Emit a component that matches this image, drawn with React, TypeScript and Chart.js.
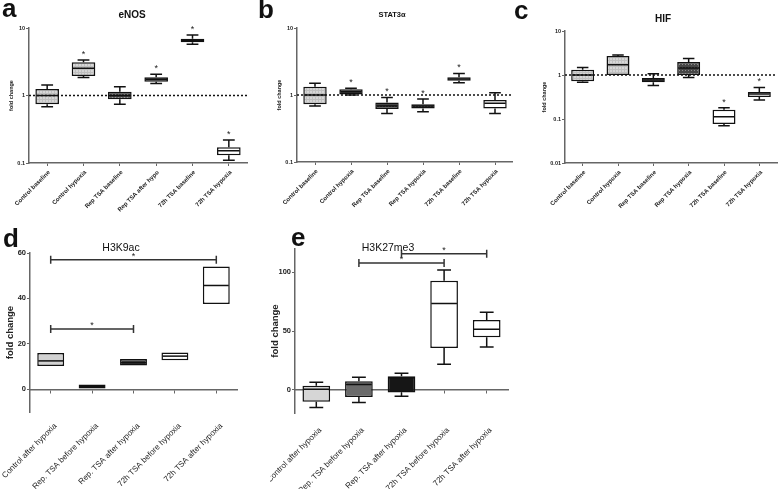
import React, { useEffect, useRef } from "react";
import { Chart, registerables } from "chart.js";

Chart.register(...registerables);
Chart.defaults.font.family = "'Liberation Sans', Arial, Helvetica, sans-serif";

// ---------------- data ----------------
// each box: [min, q1, median, q3, max]
const enosLabels = ["Control baseline", "Control hypoxia", "Rep TSA baseline", "Rep TSA after hypo", "72h TSA baseline", "72h TSA hypoxia"];
const enosBoxes = [
  [0.68, 0.74, 1.0, 1.25, 1.43],
  [1.84, 1.95, 2.53, 3.1, 3.36],
  [0.74, 0.88, 1.0, 1.14, 1.35],
  [1.51, 1.6, 1.74, 1.86, 2.06],
  [5.73, 6.14, 6.5, 6.95, 7.87],
  [0.11, 0.13, 0.152, 0.171, 0.219],
];
const enosSignificant = [false, true, false, true, true, true];
const enosTicks = [0.1, 1, 10];

const statLabels = ["Control baseline", "Control hypoxia", "Rep TSA baseline", "Rep TSA hypoxia", "72h TSA baseline", "72h TSA hypoxia"];
const statBoxes = [
  [0.685, 0.73, 1.0, 1.33, 1.5],
  [1.0, 1.02, 1.12, 1.22, 1.26],
  [0.53, 0.62, 0.685, 0.77, 0.92],
  [0.56, 0.63, 0.685, 0.73, 0.87],
  [1.53, 1.63, 1.73, 1.84, 2.1],
  [0.53, 0.63, 0.75, 0.84, 1.08],
];
const statSignificant = [false, true, true, true, true, false];
const statTicks = [0.1, 1, 10];

const hifLabels = ["Control baseline", "Control hypoxia", "Rep TSA baseline", "Rep TSA hypoxia", "72h TSA baseline", "72h TSA hypoxia"];
const hifBoxes = [
  [0.68, 0.72, 1.0, 1.32, 1.49],
  [1.0, 1.0, 1.72, 2.7, 2.85],
  [0.58, 0.68, 0.77, 0.85, 1.07],
  [0.88, 1.0, 1.44, 1.97, 2.38],
  [0.07, 0.077, 0.113, 0.163, 0.18],
  [0.27, 0.316, 0.37, 0.41, 0.52],
];
const hifSignificant = [false, false, false, false, true, true];
const hifTicks = [0.01, 0.1, 1, 10];

const h3k9Labels = ["Control after hypoxia", "Rep. TSA before hypoxia", "Rep. TSA after hypoxia", "72h TSA before hypoxia", "72h TSA after hypoxia"];
const h3k9Boxes = [
  [10.2, 10.2, 12.5, 16, 16],
  [0.3, 0.3, 1.2, 2.1, 2.1],
  [10.5, 10.5, 11.7, 13.3, 13.3],
  [12.8, 12.8, 14.6, 16.2, 16.2],
  [37.6, 37.6, 45.7, 54.1, 54.1],
];
// [from category, to category, value]
const h3k9Brackets = [[0, 4, 57], [0, 2, 26.5]];
const h3k9Ticks = [0, 20, 40, 60];

const h3k27Labels = ["Control after hypoxia", "Rep. TSA before hypoxia", "Rep. TSA after hypoxia", "72h TSA before hypoxia", "72h TSA after hypoxia"];
const h3k27Boxes = [
  [-15.4, -10.5, 0.3, 3.2, 6.3],
  [-11.1, -6.3, 4.3, 7.1, 10.6],
  [-5.7, -2.6, 10, 11.4, 14],
  [21.7, 35.4, 73.4, 92.8, 102],
  [36.3, 44.6, 51.4, 59.4, 66],
];
const h3k27Brackets = [[1, 3, 108], [2, 4, 116]];
const h3k27Ticks = [0, 50, 100];

// ---------------- styling helpers ----------------
function makePattern(bg: string, fg: string, kind: "dots" | "grid"): CanvasPattern | string {
  const c = document.createElement("canvas");
  c.width = 3;
  c.height = 3;
  const g = c.getContext("2d");
  if (!g) return bg;
  g.fillStyle = bg;
  g.fillRect(0, 0, 3, 3);
  g.fillStyle = fg;
  if (kind === "dots") {
    g.fillRect(1, 1, 1, 1);
  } else {
    g.fillRect(0, 0, 3, 1);
    g.fillRect(0, 0, 1, 3);
  }
  return g.createPattern(c, "repeat") || bg;
}

function resolveFill(name: string): any {
  if (name === "lightGrid") return makePattern("#d6d6d6", "#bfbfbf", "grid");
  if (name === "darkDots") return makePattern("#474747", "#8e8e8e", "dots");
  return name;
}

type PanelDef = {
  left: number;
  top: number;
  width: number;
  height: number;
  labels: string[];
  boxes: number[][];
  fills: string[];
  yType: "logarithmic" | "linear";
  yMin: number;
  yMax: number;
  yTicks: number[];
  sig?: boolean[];
  brackets?: number[][];
  refLine?: number;
  pad: { top: number; right: number; bottom: number };
  yWidth: number;
  xHeight?: number;
  xAtZero?: boolean;
  small: boolean;
  titlePad: number;
  xLabelPad: number;
  xLabelShift: number;
};

function extrasPlugin(def: PanelDef) {
  return {
    id: "boxExtras",
    afterDatasetsDraw(chart: any) {
      const ctx: CanvasRenderingContext2D = chart.ctx;
      const ys = chart.scales.y;
      const xs = chart.scales.x;
      const meta = chart.getDatasetMeta(0);
      const area = chart.chartArea;
      const py = (v: number) => ys.getPixelForValue(v);
      ctx.save();
      ctx.strokeStyle = "#111";
      ctx.lineWidth = 1.5;
      def.boxes.forEach((b, i) => {
        const bar = meta.data[i];
        const x = bar.x;
        const w = bar.width;
        const [mn, q1, md, q3, mx] = b;
        ctx.beginPath();
        if (mx > q3) {
          ctx.moveTo(x, py(q3));
          ctx.lineTo(x, py(mx));
          ctx.moveTo(x - w / 4, py(mx));
          ctx.lineTo(x + w / 4, py(mx));
        }
        if (mn < q1) {
          ctx.moveTo(x, py(q1));
          ctx.lineTo(x, py(mn));
          ctx.moveTo(x - w / 4, py(mn));
          ctx.lineTo(x + w / 4, py(mn));
        }
        ctx.moveTo(x - w / 2 + 1, py(md));
        ctx.lineTo(x + w / 2 - 1, py(md));
        ctx.stroke();
      });
      if (def.refLine !== undefined) {
        ctx.save();
        ctx.setLineDash([2, 2]);
        ctx.lineWidth = 1.3;
        ctx.beginPath();
        ctx.moveTo(area.left, py(def.refLine));
        ctx.lineTo(area.right, py(def.refLine));
        ctx.stroke();
        ctx.restore();
      }
      ctx.fillStyle = "#222";
      ctx.textAlign = "center";
      ctx.textBaseline = "alphabetic";
      if (def.sig) {
        ctx.font = "9px 'Liberation Sans', Arial, sans-serif";
        def.sig.forEach((s, i) => {
          if (!s) return;
          const bar = meta.data[i];
          const top = py(def.boxes[i][4]);
          ctx.fillText("*", bar.x, top - 3);
        });
      }
      if (def.brackets) {
        ctx.strokeStyle = "#333";
        ctx.lineWidth = 1.5;
        ctx.font = "9px 'Liberation Sans', Arial, sans-serif";
        def.brackets.forEach(([from, to, v]) => {
          const x1 = xs.getPixelForValue(from);
          const x2 = xs.getPixelForValue(to);
          const y = py(v);
          ctx.beginPath();
          ctx.moveTo(x1, y);
          ctx.lineTo(x2, y);
          ctx.moveTo(x1, y - 4);
          ctx.lineTo(x1, y + 4);
          ctx.moveTo(x2, y - 4);
          ctx.lineTo(x2, y + 4);
          ctx.stroke();
          ctx.fillText("*", (x1 + x2) / 2, y - 1);
        });
      }
      ctx.restore();
    },
  };
}

function BoxPanel({ def }: { def: PanelDef }) {
  const ref = useRef<HTMLCanvasElement>(null);
  useEffect(() => {
    const canvas = ref.current;
    if (!canvas) return;
    const fills = def.fills.map(resolveFill);
    const tickFontX = def.small ? { size: 6, weight: "bold" as const } : { size: 8, weight: "normal" as const };
    const tickFontY = def.small ? { size: 5.5, weight: "bold" as const } : { size: 7.5, weight: "bold" as const };
    const titleFont = def.small ? { size: 5.5, weight: "bold" as const } : { size: 9.5, weight: "bold" as const };
    const chart = new Chart(canvas, {
      type: "bar",
      data: {
        labels: def.labels,
        datasets: [
          {
            data: def.boxes.map((b) => [b[1], b[3]]) as any,
            backgroundColor: fills,
            borderColor: "#111",
            borderWidth: 1.5,
            borderSkipped: false,
            barPercentage: 0.65,
            categoryPercentage: 1,
          },
        ],
      },
      options: {
        responsive: false,
        animation: false,
        events: [],
        layout: { padding: { top: def.pad.top, right: def.pad.right, bottom: def.pad.bottom, left: 0 } },
        plugins: { legend: { display: false }, tooltip: { enabled: false }, title: { display: false } },
        scales: {
          x: {
            type: "category",
            position: (def.xAtZero ? { y: 0 } : "bottom") as any,
            offset: true,
            grid: { display: true, offset: false, drawOnChartArea: false, drawTicks: true, tickLength: 3, color: "#666", lineWidth: 1 },
            border: { display: true, color: "#666", width: 1.5 },
            ticks: {
              autoSkip: false,
              minRotation: 45,
              maxRotation: 45,
              padding: def.xLabelPad,
              labelOffset: def.xLabelShift,
              color: "#222",
              font: tickFontX,
            },
            afterFit: (s: any) => {
              if (def.xHeight) s.height = def.xHeight;
              s.paddingLeft = 0;
              s.paddingRight = 0;
            },
          } as any,
          y: {
            type: def.yType,
            min: def.yMin,
            max: def.yMax,
            afterBuildTicks: (s: any) => {
              s.ticks = def.yTicks.map((v) => ({ value: v }));
            },
            ticks: { callback: (v: any) => String(v), padding: 1, color: "#222", font: tickFontY },
            grid: { drawOnChartArea: false, drawTicks: true, tickLength: 3, color: "#666" },
            border: { display: true, color: "#666", width: 1.5 },
            title: { display: true, text: "fold change", color: "#222", font: titleFont, padding: { top: def.titlePad, bottom: 0 } },
            afterFit: (s: any) => {
              s.width = def.yWidth;
            },
          } as any,
        },
      },
      plugins: [extrasPlugin(def)],
    });
    return () => chart.destroy();
  }, []);
  return (
    <canvas
      ref={ref}
      width={def.width}
      height={def.height}
      style={{ position: "absolute", left: def.left, top: def.top }}
    />
  );
}

const panels: PanelDef[] = [
  {
    left: 0, top: 0, width: 255, height: 232,
    labels: enosLabels, boxes: enosBoxes,
    fills: ["lightGrid", "lightGrid", "darkDots", "darkDots", "#ffffff", "#ffffff"],
    yType: "logarithmic", yMin: 0.1, yMax: 10, yTicks: enosTicks,
    sig: enosSignificant, refLine: 1,
    pad: { top: 28, right: 8, bottom: 0 }, yWidth: 29, xHeight: 69,
    small: true, titlePad: 8, xLabelPad: 3, xLabelShift: 2,
  },
  {
    left: 255, top: 0, width: 258, height: 232,
    labels: statLabels, boxes: statBoxes,
    fills: ["lightGrid", "darkDots", "darkDots", "darkDots", "#ffffff", "#ffffff"],
    yType: "logarithmic", yMin: 0.1, yMax: 10, yTicks: statTicks,
    sig: statSignificant, refLine: 1,
    pad: { top: 28, right: 0, bottom: 0 }, yWidth: 42, xHeight: 70,
    small: true, titlePad: 21, xLabelPad: 3, xLabelShift: 2,
  },
  {
    left: 513, top: 0, width: 265, height: 232,
    labels: hifLabels, boxes: hifBoxes,
    fills: ["lightGrid", "lightGrid", "darkDots", "darkDots", "#ffffff", "#ffffff"],
    yType: "logarithmic", yMin: 0.01, yMax: 10, yTicks: hifTicks,
    sig: hifSignificant, refLine: 1,
    pad: { top: 31, right: 1, bottom: 0 }, yWidth: 52, xHeight: 69,
    small: true, titlePad: 28, xLabelPad: 3, xLabelShift: 2,
  },
  {
    left: 0, top: 232, width: 270, height: 257,
    labels: h3k9Labels, boxes: h3k9Boxes,
    fills: ["#d2d2d2", "#1e1e1e", "#3a3a3a", "#ffffff", "#ffffff"],
    yType: "linear", yMin: -10, yMax: 60, yTicks: h3k9Ticks,
    brackets: h3k9Brackets,
    pad: { top: 21, right: 33, bottom: 77 }, yWidth: 30, xAtZero: true,
    small: false, titlePad: 4.5, xLabelPad: 29, xLabelShift: 5,
  },
  {
    left: 270, top: 232, width: 260, height: 257,
    labels: h3k27Labels, boxes: h3k27Boxes,
    fills: ["#d6d6d6", "#6a6a6a", "#161616", "#ffffff", "#ffffff"],
    yType: "linear", yMin: -20, yMax: 120, yTicks: h3k27Ticks,
    brackets: h3k27Brackets,
    pad: { top: 17, right: 22, bottom: 76 }, yWidth: 25, xAtZero: true,
    small: false, titlePad: 0, xLabelPad: 33, xLabelShift: 4,
  },
];

const letters = [
  { text: "a", x: 2, y: -5 },
  { text: "b", x: 258, y: -4 },
  { text: "c", x: 514, y: -3 },
  { text: "d", x: 3, y: 225 },
  { text: "e", x: 291, y: 224 },
];

const titles = [
  { text: "eNOS", x: 132, y: 15, size: 10, weight: 700 },
  { text: "STAT3α", x: 392, y: 15, size: 7.5, weight: 700 },
  { text: "HIF", x: 663, y: 19, size: 10, weight: 700 },
  { text: "H3K9ac", x: 121, y: 247, size: 10.5, weight: 400 },
  { text: "H3K27me3", x: 388, y: 247, size: 10.5, weight: 400 },
];

export default function App() {
  return (
    <div
      style={{
        position: "absolute",
        left: 0,
        top: 0,
        width: 778,
        height: 489,
        background: "#ffffff",
        overflow: "hidden",
        fontFamily: "'Liberation Sans', Arial, Helvetica, sans-serif",
        color: "#111",
      }}
    >
      {panels.map((p, i) => (
        <BoxPanel key={i} def={p} />
      ))}
      {letters.map((l) => (
        <div
          key={l.text}
          style={{ position: "absolute", left: l.x, top: l.y, fontSize: 26, fontWeight: 700, lineHeight: 1 }}
        >
          {l.text}
        </div>
      ))}
      {titles.map((t) => (
        <div
          key={t.text}
          style={{
            position: "absolute",
            left: t.x,
            top: t.y,
            transform: "translate(-50%, -50%)",
            fontSize: t.size,
            fontWeight: t.weight,
            lineHeight: 1,
            whiteSpace: "nowrap",
          }}
        >
          {t.text}
        </div>
      ))}
    </div>
  );
}
